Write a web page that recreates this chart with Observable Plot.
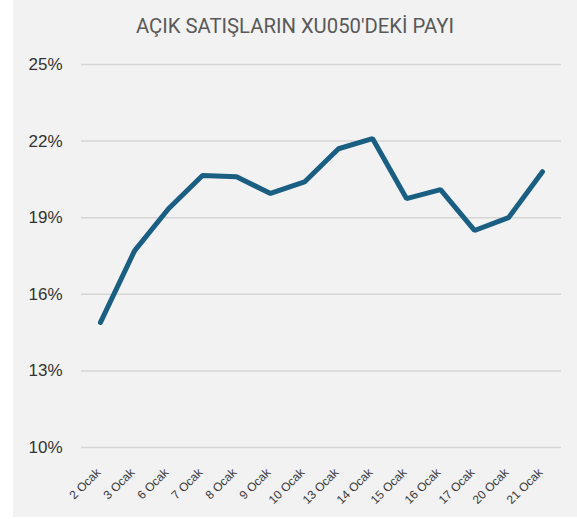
<!DOCTYPE html>
<html>
<head>
<meta charset="utf-8">
<script src="https://cdn.jsdelivr.net/npm/d3@7"></script>
<script src="https://cdn.jsdelivr.net/npm/@observablehq/plot@0.6"></script>
<style>
  html, body { margin: 0; padding: 0; background: #ffffff; }
  #panel { position: absolute; left: 13px; top: 0; width: 564px; height: 517px; background: #f2f2f2; overflow: hidden; }
  #title { position: absolute; left: 0; top: 14px; width: 564px; height: 24px; text-align: center; white-space: nowrap;
           font-family: Roboto, sans-serif; font-size: 20px; color: #595959; line-height: 24px; }
  #title span { display: inline-block; transform-origin: center center; }
  #chart { position: absolute; left: 0; top: 50px; }
  #chart svg text { font-family: 'Liberation Sans', Arial, sans-serif; }
</style>
</head>
<body>
<div id="panel">
  <div id="title"><span>AÇIK SATIŞLARIN XU050'DEKİ PAYI</span></div>
  <div id="chart"></div>
</div>
<script>
const dates = ["2 Ocak","3 Ocak","6 Ocak","7 Ocak","8 Ocak","9 Ocak","10 Ocak","13 Ocak","14 Ocak","15 Ocak","16 Ocak","17 Ocak","20 Ocak","21 Ocak"];
const shares = [14.9, 17.7, 19.35, 20.65, 20.6, 19.95, 20.4, 21.7, 22.1, 19.75, 20.1, 18.5, 19.0, 20.8];
const yTicks = [10, 13, 16, 19, 22, 25];

const data = dates.map((d, i) => ({date: d, value: shares[i]}));

const chart = Plot.plot({
  width: 564,
  height: 467,
  marginTop: 14,
  marginBottom: 70,
  marginLeft: 68,
  marginRight: 16,
  style: {background: "transparent"},
  x: {type: "point", domain: dates, padding: 0.5},
  y: {domain: [10, 25], ticks: yTicks},
  marks: [
    Plot.gridY(yTicks, {stroke: "#d6d6d6", strokeOpacity: 1, strokeWidth: 1.5}),
    Plot.axisY(yTicks, {tickSize: 0, tickPadding: 19, tickFormat: d => d + "%", fontSize: 17, fill: "#333333", label: null}),
    Plot.axisX({tickSize: 0, tickPadding: 4, tickRotate: -45, fontSize: 12, fill: "#3a3a3a", label: null, dx: -2, dy: 19}),
    Plot.line(data, {x: "date", y: "value", stroke: "#1a5f82", strokeWidth: 5, strokeLinecap: "round", strokeLinejoin: "miter"})
  ]
});
document.getElementById("chart").appendChild(chart);

const span = document.querySelector("#title span");
const w = span.getBoundingClientRect().width;
span.style.transform = `scaleX(${318 / w})`;
</script>
</body>
</html>
